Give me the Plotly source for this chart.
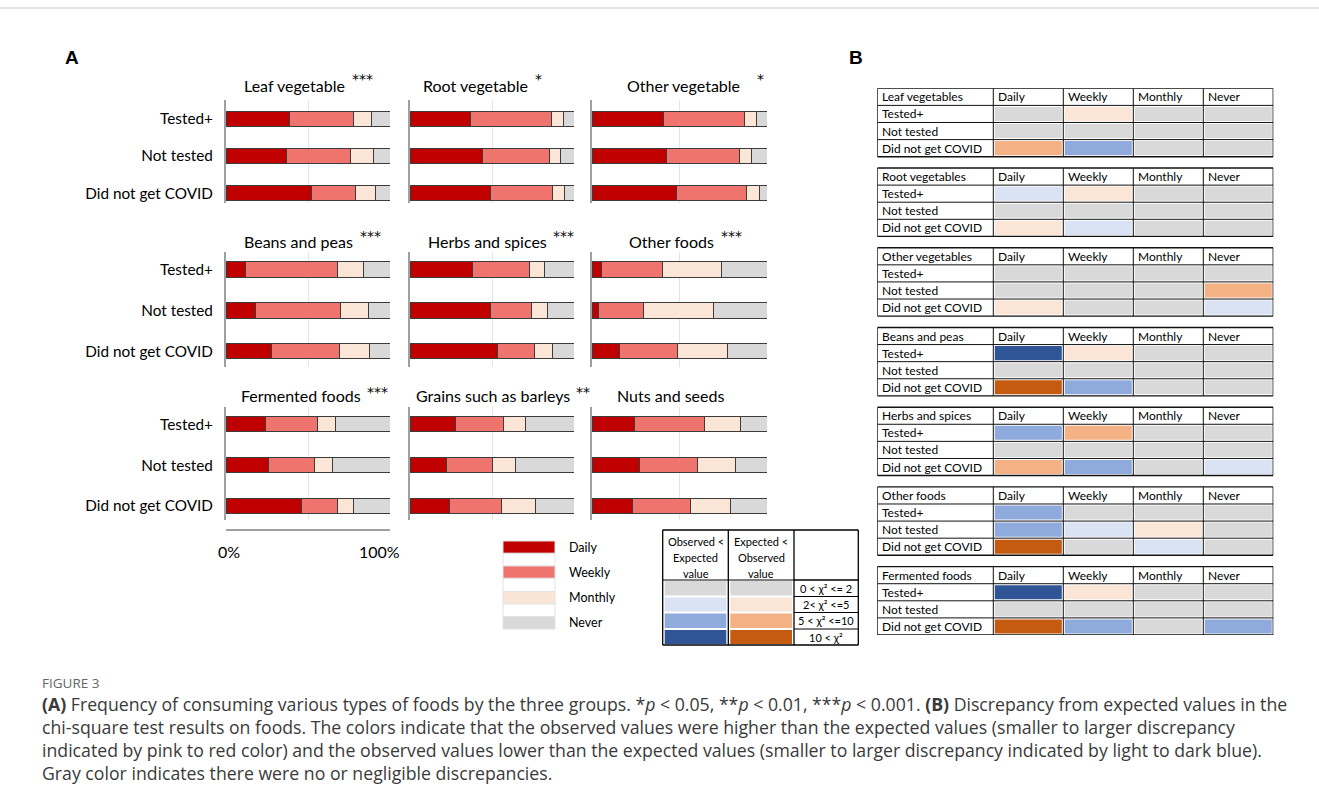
import plotly.graph_objects as go

W, H = 1319, 807

# ---------------- data ----------------
groups = ["Tested+", "Not tested", "Did not get COVID"]
freq_levels = ["Daily", "Weekly", "Monthly", "Never"]

food_titles = ["Leaf vegetable", "Root vegetable", "Other vegetable",
               "Beans and peas", "Herbs and spices", "Other foods",
               "Fermented foods", "Grains such as barleys", "Nuts and seeds"]
food_stars = ["***", "*", "*", "***", "***", "***", "***", "**", ""]

# percent of respondents per group: [Daily, Weekly, Monthly, Never]
leaf_vegetable = [[39, 39, 11, 11], [37, 39, 14, 10], [52, 27, 12, 9]]
root_vegetable = [[37, 49, 7.5, 6.5], [44, 41, 7, 8], [49, 38, 7, 6]]
other_vegetable = [[41, 46, 7, 6], [42.5, 41.5, 7, 9], [48, 40, 7.5, 4.5]]
beans_peas = [[12, 56, 16, 16], [18, 52, 17, 13], [28, 41.5, 18, 12.5]]
herbs_spices = [[38, 35, 9, 18], [49, 25, 10, 16], [53.5, 22.5, 11, 13]]
other_foods = [[5.5, 34.5, 34, 26], [3.5, 26, 40, 30.5], [15.5, 33.5, 28.5, 22.5]]
fermented_foods = [[24, 32, 11, 33], [26, 28, 11, 35], [46, 22, 10, 22]]
grains_barleys = [[27.5, 29.5, 13.5, 29.5], [22, 28.5, 14, 35.5], [24, 31.5, 21, 23.5]]
nuts_seeds = [[24, 40, 21, 15], [27, 33, 22, 18], [23, 33, 23, 21]]
panel_a_values = [leaf_vegetable, root_vegetable, other_vegetable,
                  beans_peas, herbs_spices, other_foods,
                  fermented_foods, grains_barleys, nuts_seeds]
scale_ticks = [0, 100]
scale_labels = ["0%", "100%"]

# Panel B: discrepancy level (-3..-1 observed<expected, 0 none, 1..3 observed>expected)
table_foods = ["Leaf vegetables", "Root vegetables", "Other vegetables",
               "Beans and peas", "Herbs and spices", "Other foods", "Fermented foods"]
table_columns = ["Daily", "Weekly", "Monthly", "Never"]
disc_leaf = [[0, 1, 0, 0], [0, 0, 0, 0], [2, -2, 0, 0]]
disc_root = [[-1, 1, 0, 0], [0, 0, 0, 0], [1, -1, 0, 0]]
disc_other_veg = [[0, 0, 0, 0], [0, 0, 0, 2], [1, 0, 0, -1]]
disc_beans = [[-3, 1, 0, 0], [0, 0, 0, 0], [3, -2, 0, 0]]
disc_herbs = [[-2, 2, 0, 0], [0, 0, 0, 0], [2, -2, 0, -1]]
disc_other_foods = [[-2, 0, 0, 0], [-2, -1, 1, 0], [3, 0, -1, 0]]
disc_fermented = [[-3, 1, 0, 0], [0, 0, 0, 0], [3, -2, 0, -2]]
panel_b_levels = [disc_leaf, disc_root, disc_other_veg, disc_beans,
                  disc_herbs, disc_other_foods, disc_fermented]

chi_labels = ["0 < χ² <= 2", "2< χ² <=5", "5 < χ² <=10", "10 < χ²"]
chi_levels = [0, 1, 2, 3]
chi_headers = [["Observed <", "Expected", "value"], ["Expected <", "Observed", "value"]]

# ---------------- styles ----------------
freq_colors = ["#C00000", "#F0746E", "#FBE5D6", "#D9D9D9"]
level_colors = {-3: "#2F5597", -2: "#8FAADC", -1: "#DAE3F3", 0: "#D9D9D9",
                1: "#FBE5D6", 2: "#F4B183", 3: "#C55A11"}
FA = "Lato"
FC = "Open Sans"


def fx(x):
    return x / W


def fy(y):
    return 1 - y / H


fig = go.Figure()
layout = {}
shapes = []
ann = []

# ---------------- panel A ----------------
col_px = [(226, 390), (410, 574), (592, 767)]
row_px = [(100, 203), (251.7, 366.7), (406.7, 520)]
row_rng = [[2.26, -0.5], [2.38, -0.43], [2.34, -0.43]]
row_bw = [0.40, 0.38, 0.37]
title_y = [85, 241.7, 395]
star_y = [77, 234, 390]
title_x = [294.3, 475.3, 683.3, 298.3, 487.5, 671.7, 300.8, 493, 670]
star_x = [362.5, 538, 760.7, 371, 563.5, 731.7, 377, 582.5, 0]

for i, vals in enumerate(panel_a_values):
    r, c = divmod(i, 3)
    n = i + 1
    xa, ya = f"x{n}", f"y{n}"
    for k, lvl in enumerate(freq_levels):
        fig.add_trace(go.Bar(
            x=[v[k] for v in vals], y=[0, 1, 2], orientation="h",
            width=row_bw[r], name=lvl, showlegend=False,
            marker=dict(color=freq_colors[k], line=dict(color="#3c3c3c", width=1)),
            xaxis=xa, yaxis=ya, hovertemplate="%{x}%<extra>" + lvl + "</extra>"))
    layout[f"xaxis{n}"] = dict(
        domain=[fx(col_px[c][0]), fx(col_px[c][1])], range=[0, 100], anchor=ya,
        tickvals=[50, 100], showticklabels=False, showgrid=True,
        gridcolor="#E4E4E4", gridwidth=1, zeroline=False, showline=False,
        ticks="", fixedrange=True)
    layout[f"yaxis{n}"] = dict(
        domain=[fy(row_px[r][1]), fy(row_px[r][0])], range=row_rng[r], anchor=xa,
        showline=True, linecolor="#A0A0A0", linewidth=2, showgrid=False,
        zeroline=False, tickvals=[0, 1, 2], ticktext=groups,
        showticklabels=(c == 0), ticks="", ticklabelstandoff=8,
        tickfont=dict(family=FA, size=15.3, color="#000"), fixedrange=True)
    ann.append(dict(x=fx(title_x[i]), y=fy(title_y[r]), xref="paper", yref="paper",
                    text=food_titles[i], showarrow=False, xanchor="center",
                    yanchor="middle", font=dict(family=FA, size=16, color="#000")))
    if food_stars[i]:
        ann.append(dict(x=fx(star_x[i]), y=fy(star_y[r] + 2), xref="paper", yref="paper",
                        text=food_stars[i], showarrow=False, xanchor="center",
                        yanchor="middle",
                        font=dict(family="DejaVu Sans", size=14, color="#000")))

# bottom percent scale under first column
fig.add_trace(go.Scatter(x=[0, 100], y=[0, 0], mode="markers",
                         marker=dict(size=1, opacity=0), showlegend=False,
                         hoverinfo="skip", xaxis="x10", yaxis="y10"))
layout["xaxis10"] = dict(domain=[fx(226), fx(390)], range=[0, 100], anchor="y10",
                         showline=True, linecolor="#A0A0A0", linewidth=1.5,
                         ticks="inside", ticklen=10, tickcolor="#A0A0A0",
                         tickwidth=1.5, tickvals=scale_ticks, showticklabels=False,
                         showgrid=False, zeroline=False, fixedrange=True)
layout["yaxis10"] = dict(domain=[fy(529), fy(527)], anchor="x10", visible=False,
                         fixedrange=True)
for tv, tl, sh in zip(scale_ticks, scale_labels, [3, -11]):
    ann.append(dict(x=tv, y=fy(551), xref="x10", yref="paper", text=tl,
                    showarrow=False, xanchor="center", yanchor="middle", xshift=sh,
                    font=dict(family=FA, size=16, color="#000")))

# legend for panel A
leg_y = [541, 566, 591.7, 616.7]
for k, lvl in enumerate(freq_levels):
    shapes.append(dict(type="rect", xref="paper", yref="paper",
                       x0=fx(503), x1=fx(555), y0=fy(leg_y[k] + 12.3), y1=fy(leg_y[k]),
                       fillcolor=freq_colors[k], line=dict(color="#E2E2E2", width=1)))
    if k < 3:
        shapes.append(dict(type="rect", xref="paper", yref="paper",
                           x0=fx(503), x1=fx(555), y0=fy(leg_y[k + 1]),
                           y1=fy(leg_y[k] + 12.3), fillcolor="#FFFFFF",
                           line=dict(color="#E2E2E2", width=1)))
    ann.append(dict(x=fx(567), y=fy(leg_y[k] + 6), xref="paper", yref="paper",
                    text=lvl, showarrow=False, xanchor="left", yanchor="middle",
                    font=dict(family=FA, size=12.5, color="#000")))

# chi-square key table
cx = [662.7, 728.3, 794, 858.3]
cy = [530, 580, 596.5, 612.5, 629, 645]
for j, lv in enumerate(chi_levels):
    for cc, sign in enumerate([-1, 1]):
        shapes.append(dict(type="rect", xref="paper", yref="paper",
                           x0=fx(cx[cc] + 2), x1=fx(cx[cc + 1] - 2),
                           y0=fy(cy[j + 2] - 1), y1=fy(cy[j + 1] + 1),
                           fillcolor=level_colors[sign * lv], line=dict(width=0)))
    ann.append(dict(x=fx((cx[2] + cx[3]) / 2), y=fy((cy[j + 1] + cy[j + 2]) / 2),
                    xref="paper", yref="paper", text=chi_labels[j], showarrow=False,
                    xanchor="center", yanchor="middle",
                    font=dict(family=FA, size=11, color="#000")))
    shapes.append(dict(type="line", xref="paper", yref="paper",
                       x0=fx(cx[2]), x1=fx(cx[3]), y0=fy(cy[j + 1]), y1=fy(cy[j + 1]),
                       line=dict(color="#000", width=1)))
shapes.append(dict(type="line", xref="paper", yref="paper", x0=fx(cx[0]), x1=fx(cx[3]),
                   y0=fy(cy[1]), y1=fy(cy[1]), line=dict(color="#000", width=1)))
for xv in cx:
    shapes.append(dict(type="line", xref="paper", yref="paper", x0=fx(xv), x1=fx(xv),
                       y0=fy(cy[0]), y1=fy(cy[-1]), line=dict(color="#000", width=1.3)))
for yv in [cy[0], cy[-1]]:
    shapes.append(dict(type="line", xref="paper", yref="paper", x0=fx(cx[0]), x1=fx(cx[3]),
                       y0=fy(yv), y1=fy(yv), line=dict(color="#000", width=1.3)))
for cc, lines in enumerate(chi_headers):
    for li, txt in enumerate(lines):
        ann.append(dict(x=fx((cx[cc] + cx[cc + 1]) / 2), y=fy(541 + 16 * li),
                        xref="paper", yref="paper", text=txt, showarrow=False,
                        xanchor="center", yanchor="middle",
                        font=dict(family=FA, size=11, color="#000")))

# ---------------- panel B ----------------
pitch = 4.663
label_w = 116 / 70
fig.add_trace(go.Scatter(x=[0, 4], y=[0, 0], mode="markers",
                         marker=dict(size=1, opacity=0), showlegend=False,
                         hoverinfo="skip", xaxis="x11", yaxis="y11"))
layout["xaxis11"] = dict(domain=[fx(877.3), fx(1273.3)], range=[-label_w, 4],
                         anchor="y11", visible=False, fixedrange=True)
layout["yaxis11"] = dict(domain=[fy(635), fy(88.3)], range=[6 * pitch + 4, 0],
                         anchor="x11", visible=False, fixedrange=True)
ix, iy = 1.5 / 70, 1.5 / 17.1
for t, (food, lv) in enumerate(zip(table_foods, panel_b_levels)):
    y0 = t * pitch
    for r in range(3):
        for c in range(4):
            shapes.append(dict(type="rect", xref="x11", yref="y11",
                               x0=c + ix, x1=c + 1 - ix,
                               y0=y0 + 1 + r + iy, y1=y0 + 2 + r - iy,
                               fillcolor=level_colors[lv[r][c]], line=dict(width=0)))
    for j in range(5):
        shapes.append(dict(type="line", xref="x11", yref="y11", x0=-label_w, x1=4,
                           y0=y0 + j, y1=y0 + j,
                           line=dict(color="#111", width=1.4 if j in (0, 4) else 1)))
    for xv in [-label_w, 0, 1, 2, 3, 4]:
        shapes.append(dict(type="line", xref="x11", yref="y11", x0=xv, x1=xv,
                           y0=y0, y1=y0 + 4,
                           line=dict(color="#111", width=1.4 if xv in (-label_w, 4) else 1)))
    ann.append(dict(x=-label_w + 0.04, y=y0 + 0.5, xref="x11", yref="y11", text=food,
                    showarrow=False, xanchor="left", yanchor="middle",
                    font=dict(family=FA, size=12, color="#000")))
    for c, col in enumerate(table_columns):
        ann.append(dict(x=c + 0.04, y=y0 + 0.5, xref="x11", yref="y11", text=col,
                        showarrow=False, xanchor="left", yanchor="middle",
                        font=dict(family=FA, size=12, color="#000")))
    for r, g in enumerate(groups):
        ann.append(dict(x=-label_w + 0.04, y=y0 + 1.5 + r, xref="x11", yref="y11",
                        text=g, showarrow=False, xanchor="left", yanchor="middle",
                        font=dict(family=FA, size=12, color="#000")))

# panel letters
ann.append(dict(x=fx(63), y=fy(57), xref="paper", yref="paper", text="<b>A</b>",
                showarrow=False, xanchor="left", yanchor="middle",
                font=dict(family="Liberation Sans", size=19, color="#000")))
ann.append(dict(x=fx(847), y=fy(57), xref="paper", yref="paper", text="<b>B</b>",
                showarrow=False, xanchor="left", yanchor="middle",
                font=dict(family="Liberation Sans", size=19, color="#000")))

# top rule
shapes.append(dict(type="line", xref="paper", yref="paper", x0=0, x1=1,
                   y0=fy(8), y1=fy(8), line=dict(color="#CCCCCC", width=1)))

# caption
ann.append(dict(x=fx(40), y=fy(683), xref="paper", yref="paper", text="FIGURE 3",
                showarrow=False, xanchor="left", yanchor="middle",
                font=dict(family=FC, size=13.5, color="#666")))
cap_lines = [
    "<b>(A)</b> Frequency of consuming various types of foods by the three groups. "
    "*<i>p</i> < 0.05, **<i>p</i> < 0.01, ***<i>p</i> < 0.001. <b>(B)</b> Discrepancy "
    "from expected values in the",
    "chi-square test results on foods. The colors indicate that the observed values "
    "were higher than the expected values (smaller to larger discrepancy",
    "indicated by pink to red color) and the observed values lower than the expected "
    "values (smaller to larger discrepancy indicated by light to dark blue).",
    "Gray color indicates there were no or negligible discrepancies.",
]
for li, txt in enumerate(cap_lines):
    ann.append(dict(x=fx(40), y=fy(704 + 23 * li), xref="paper", yref="paper",
                    text=txt, showarrow=False, xanchor="left", yanchor="middle",
                    font=dict(family=FC, size=17.7, color="#3a3a3a")))

fig.update_layout(
    width=W, height=H, margin=dict(l=0, r=0, t=0, b=0),
    paper_bgcolor="#FFFFFF", plot_bgcolor="rgba(0,0,0,0)",
    barmode="stack", showlegend=False, shapes=shapes, annotations=ann,
    **layout)

fig.write_html("out.html", config={"displayModeBar": False},
               post_script="document.body.style.margin='0';"
                           "document.body.style.overflow='hidden';")
